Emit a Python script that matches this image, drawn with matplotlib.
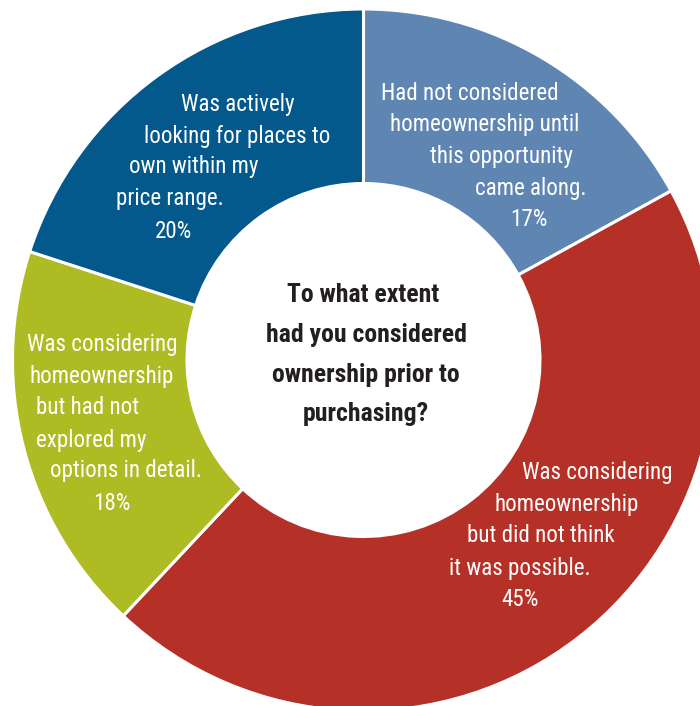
import matplotlib
matplotlib.use("Agg")
from matplotlib import pyplot as plt

# survey shares, clockwise from the top
shares = [17, 45, 18, 20]
colors = ["#5f86b3", "#b53127", "#aebb22", "#03588c"]

labels = [
    ["Had not considered", "homeownership until", "this opportunity", "came along."],
    ["Was considering", "homeownership", "but did not think", "it was possible."],
    ["Was considering", "homeownership", "but had not", "explored my", "options in detail."],
    ["Was actively", "looking for places to", "own within my", "price range."],
]
question = ["To what extent", "had you considered", "ownership prior to", "purchasing?"]

W, H = 700, 706

# line centres (x, y from the top edge) for each label block
label_lines_xy = [
    [(470, 93), (485, 125), (502, 156), (531, 188), (529, 220)],
    [(597, 472), (567, 504), (541, 536), (520, 568), (520, 600)],
    [(102, 344), (102, 376), (88, 407), (91, 440), (126, 471), (112, 503)],
    [(238, 104), (237, 136), (194, 167), (170, 199), (173, 231)],
]
question_xy = [(363, 295), (366, 335), (366, 375), (366, 414)]

plt.rcParams["font.family"] = ["Roboto Condensed", "DejaVu Sans"]

fig = plt.figure(figsize=(W / 100, H / 100), dpi=100)
ax = fig.add_axes([0, 0, 1, 1])

ax.pie(shares, colors=colors, startangle=90, counterclock=False,
       center=(363.5, H - 360), radius=351,
       wedgeprops=dict(width=174.5, edgecolor="white", linewidth=2.2))

ax.set_xlim(0, W)
ax.set_ylim(0, H)
ax.set_aspect("equal")
ax.axis("off")

for lines, share, pos in zip(labels, shares, label_lines_xy):
    texts = lines + [f"{share}%"]
    for t, (x, y) in zip(texts, pos):
        ax.text(x, H - y, t, ha="center", va="center", color="white", fontsize=16.6)

for t, (x, y) in zip(question, question_xy):
    ax.text(x, H - y, t, ha="center", va="center", color="#231f20",
            fontsize=18.5, fontweight="bold")

fig.savefig("out.png", dpi=100, facecolor="white")
